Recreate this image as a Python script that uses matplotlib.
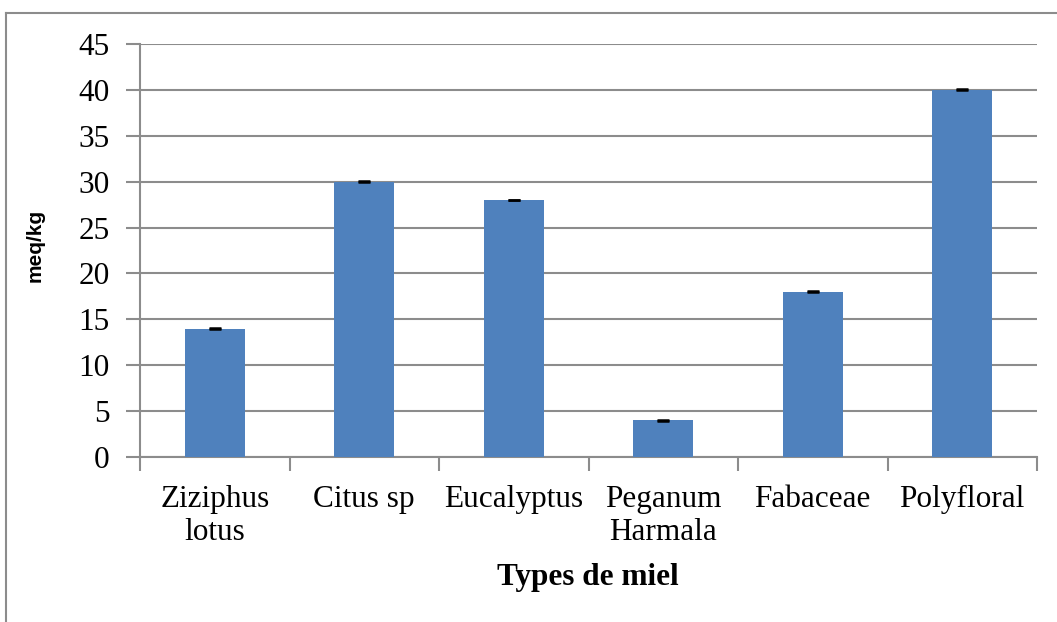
import matplotlib
matplotlib.use("Agg")
import matplotlib.pyplot as plt

categories = ["Ziziphus\nlotus", "Citus sp", "Eucalyptus", "Peganum\nHarmala", "Fabaceae", "Polyfloral"]
values = [14, 30, 28, 4, 18, 40]
errors = [0.05, 0.05, 0.05, 0.05, 0.05, 0.05]
yticks = [0, 5, 10, 15, 20, 25, 30, 35, 40, 45]

W, H = 1057, 622
fig = plt.figure(figsize=(W / 100, H / 100), dpi=100)
ax = fig.add_axes([140 / W, 1 - 457 / H, (1037 - 140) / W, (457 - 44) / H])

grid_c = "#8c8c8c"
x = list(range(len(categories)))
ax.bar(x, values, width=0.4, color="#4F81BD", zorder=3)
ax.errorbar(x, values, yerr=errors, fmt="none", ecolor="black", elinewidth=1.2,
            capsize=4.3, capthick=1.8, zorder=4)

ax.set_xlim(-0.5, len(categories) - 0.5)
ax.set_ylim(0, 45)
ax.set_yticks(yticks)
ax.yaxis.grid(True, color=grid_c, linewidth=1.5, zorder=0)
ax.set_axisbelow(True)

serif = ["Liberation Serif", "DejaVu Serif"]
ax.set_yticklabels([str(v) for v in yticks], fontfamily=serif, fontsize=22.5)
ax.set_xticks(x)
ax.set_xticklabels(categories, fontfamily=serif, fontsize=22.5, linespacing=1.2)
ax.set_xticks([i - 0.5 for i in range(len(categories) + 1)], minor=True)
ax.tick_params(axis="x", which="major", length=0, pad=20)
ax.tick_params(axis="x", which="minor", length=10, width=1.5, color=grid_c, direction="out")
ax.tick_params(axis="y", length=10, width=1.5, color=grid_c, direction="out", pad=12)

for s in ["top", "right"]:
    ax.spines[s].set_visible(False)
for s in ["left", "bottom"]:
    ax.spines[s].set_color(grid_c)
    ax.spines[s].set_linewidth(1.5)

fig.text(588 / W, 1 - 577 / H, "Types de miel", fontfamily=serif, fontsize=22.5,
         fontweight="bold", ha="center", va="center")
fig.text(35 / W, 1 - 245 / H, "meq/kg", rotation=90, fontfamily=["Liberation Sans", "DejaVu Sans"],
         fontsize=15, fontweight="bold", ha="center", va="center")

# outer chart frame (only left and top visible in reference)
fig.add_artist(plt.Line2D([6 / W, 6 / W], [0, 1 - 13 / H], transform=fig.transFigure,
                          color="#8c8c8c", linewidth=1.5))
fig.add_artist(plt.Line2D([6 / W, 1], [1 - 13 / H, 1 - 13 / H], transform=fig.transFigure,
                          color="#8c8c8c", linewidth=1.5))

fig.savefig("out.png", dpi=100)
